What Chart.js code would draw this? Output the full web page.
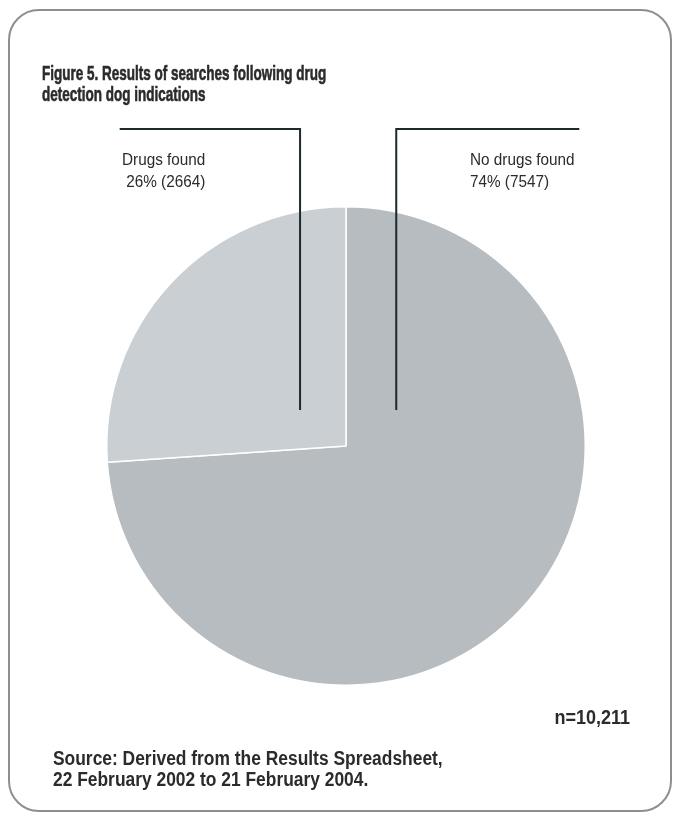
<!DOCTYPE html>
<html>
<head>
<meta charset="utf-8">
<script src="https://cdn.jsdelivr.net/npm/chart.js@4"></script>
<style>
  html, body { margin: 0; padding: 0; background: #ffffff; }
  #wrap { width: 681px; height: 820px; position: relative; }
</style>
</head>
<body>
<div id="wrap"><canvas id="c" width="681" height="820"></canvas></div>
<script>
// ---- data ----
const categories = ["No drugs found", "Drugs found"];
const counts = [7547, 2664];
const percents = [74, 26];
const total = "n=10,211";
const titleLines = ["Figure 5. Results of searches following drug", "detection dog indications"];
const sourceLines = ["Source: Derived from the Results Spreadsheet,", "22 February 2002 to 21 February 2004."];

// ---- styles ----
const sliceColors = ["#b6bcbf", "#cacfd3"];
const textColor = "#2b2b2b";
const lineColor = "#1c2a2c";

function drawText(ctx, txt, x, y, font, sx, align, heavy) {
  ctx.save();
  ctx.font = font;
  ctx.fillStyle = textColor;
  ctx.strokeStyle = textColor;
  ctx.textBaseline = "alphabetic";
  let w = ctx.measureText(txt).width * sx;
  let x0 = align === "right" ? x - w : x;
  ctx.translate(x0, y);
  ctx.scale(sx, 1);
  ctx.textAlign = "left";
  ctx.fillText(txt, 0, 0);
  if (heavy) { ctx.lineWidth = heavy; ctx.strokeText(txt, 0, 0); }
  ctx.restore();
}

const decor = {
  id: "decor",
  beforeDraw(chart) {
    const ctx = chart.ctx;
    ctx.save();
    ctx.strokeStyle = "#8e8e8e";
    ctx.lineWidth = 2;
    ctx.beginPath();
    ctx.roundRect(9, 10, 662, 801, 30);
    ctx.stroke();
    ctx.restore();
  },
  afterDraw(chart) {
    const ctx = chart.ctx;
    const arc = chart.getDatasetMeta(0).data[0];
    const cx = arc.x, cy = arc.y, r = arc.outerRadius;
    ctx.save();
    ctx.strokeStyle = lineColor;
    ctx.lineWidth = 2;
    const topY = cy - 1.325 * r;
    const botY = cy - 0.15 * r;
    const lx = cx - 0.192 * r;
    ctx.beginPath();
    ctx.moveTo(cx - 0.946 * r, topY);
    ctx.lineTo(lx, topY);
    ctx.lineTo(lx, botY);
    ctx.stroke();
    const rx = cx + 0.21 * r;
    ctx.beginPath();
    ctx.moveTo(cx + 0.975 * r, topY);
    ctx.lineTo(rx, topY);
    ctx.lineTo(rx, botY);
    ctx.stroke();
    ctx.restore();

    const reg = "17px 'Liberation Sans', Arial, sans-serif";
    drawText(ctx, categories[1], 122, 165, reg, 0.9);
    drawText(ctx, " " + percents[1] + "% (" + counts[1] + ")", 122, 187, reg, 0.9);
    drawText(ctx, categories[0], 470, 165, reg, 0.9);
    drawText(ctx, percents[0] + "% (" + counts[0] + ")", 470, 187, reg, 0.9);
    const tfont = "bold 20px 'Liberation Sans', Arial, sans-serif";
    drawText(ctx, titleLines[0], 42, 80, tfont, 0.675, null, 0.6);
    drawText(ctx, titleLines[1], 42, 101, tfont, 0.675, null, 0.6);
    const nfont = "bold 20px 'Liberation Sans', Arial, sans-serif";
    drawText(ctx, total, 630, 724, nfont, 0.9, "right");
    const sfont = "bold 20px 'Liberation Sans', Arial, sans-serif";
    drawText(ctx, sourceLines[0], 53, 765, sfont, 0.87);
    drawText(ctx, sourceLines[1], 53, 786, sfont, 0.87);
  }
};

new Chart(document.getElementById("c"), {
  type: "pie",
  data: {
    labels: categories,
    datasets: [{
      data: counts,
      backgroundColor: sliceColors,
      borderColor: "#ffffff",
      borderWidth: 1.5
    }]
  },
  options: {
    responsive: false,
    animation: false,
    events: [],
    layout: { padding: { left: 106, right: 95, top: 206, bottom: 134 } },
    plugins: {
      legend: { display: false },
      title: { display: false },
      tooltip: { enabled: false }
    }
  },
  plugins: [decor]
});
</script>
</body>
</html>
